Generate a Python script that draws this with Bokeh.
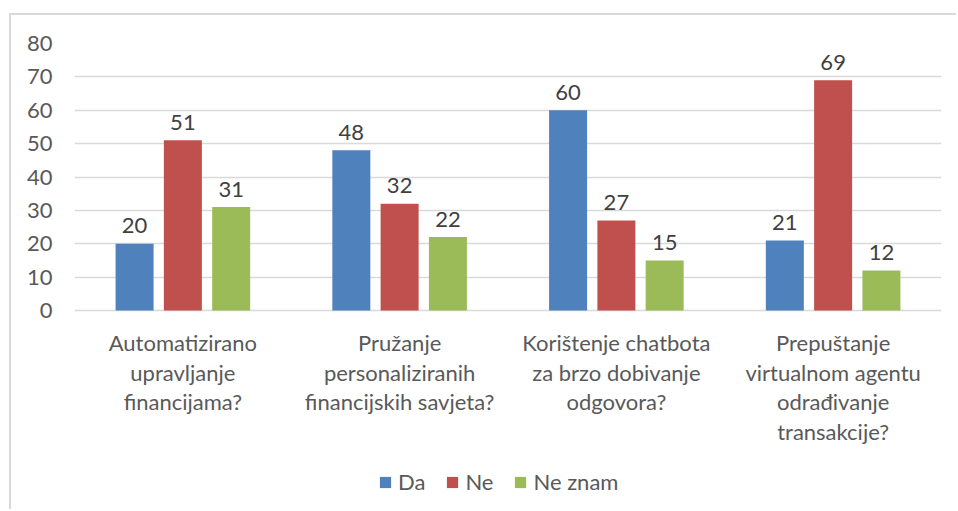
from bokeh.plotting import figure
from bokeh.models import ColumnDataSource, FactorRange, Range1d, Legend, LegendItem, FixedTicker
from bokeh.transform import dodge
from bokeh.core.properties import value
from bokeh.embed import file_html
from bokeh.resources import INLINE

# ---- data ----
categories = [
    "Automatizirano\nupravljanje\nfinancijama?",
    "Pružanje\npersonaliziranih\nfinancijskih savjeta?",
    "Korištenje chatbota\nza brzo dobivanje\nodgovora?",
    "Prepuštanje\nvirtualnom agentu\nodrađivanje\ntransakcije?",
]
series_names = ["Da", "Ne", "Ne znam"]
da = [20, 48, 60, 21]
ne = [51, 32, 27, 69]
ne_znam = [31, 22, 15, 12]
y_ticks = [0, 10, 20, 30, 40, 50, 60, 70, 80]

colors = ["#4F81BD", "#C0504D", "#9BBB59"]
FONT = "Lato"
FS = "22px"

src = ColumnDataSource(dict(
    x=categories, base=[0] * len(categories),
    da=da, ne=ne, nz=ne_znam,
    da_t=[str(v) for v in da], ne_t=[str(v) for v in ne], nz_t=[str(v) for v in ne_znam],
))

# the frame reaches down to the bottom of the chart, so that category labels and
# legend (drawn inside it) are not clipped; the value axis only ticks 0..80
p = figure(
    x_range=FactorRange(*categories, range_padding=0), y_range=Range1d(-60.2, 80),
    width=947, height=496, output_backend="svg", toolbar_location=None,
    x_axis_location=None,
    min_border_left=63, min_border_right=17, min_border_top=28, min_border_bottom=0,
)
p.styles = {
    "margin-left": "9px", "margin-top": "13px",
    "border-left": "2px solid #d9d9d9", "border-top": "2px solid #d9d9d9",
}
p.outline_line_color = None
p.background_fill_color = "white"
p.border_fill_color = "white"

offs = [-0.2228, 0.0, 0.2228]
cols = ["da", "ne", "nz"]
renderers = []
for off, c, col in zip(offs, colors, cols):
    r = p.vbar(x=dodge("x", off, range=p.x_range), top=col, width=0.1753, source=src,
               fill_color=c, line_color=None)
    renderers.append(r)
    p.text(x=dodge("x", off, range=p.x_range), y=col, text=col + "_t", source=src,
           text_align="center", text_baseline="alphabetic", y_offset=-18,
           text_font=value(FONT), text_font_size=FS, text_color="#404040")

# category labels under the zero line
p.text(x="x", y="base", text="x", source=src, text_align="center", text_baseline="top",
       y_offset=18, text_line_height=1.11,
       text_font=value(FONT), text_font_size=FS, text_color="#595959")

# value axis
p.yaxis.ticker = FixedTicker(ticks=y_ticks)
p.yaxis.axis_line_color = None
p.yaxis.major_tick_line_color = None
p.yaxis.minor_tick_line_color = None
p.yaxis.major_tick_out = 0
p.yaxis.major_label_standoff = 22
p.yaxis.major_label_text_font = FONT
p.yaxis.major_label_text_font_size = FS
p.yaxis.major_label_text_color = "#595959"

p.xgrid.grid_line_color = None
p.ygrid.grid_line_color = "#d9d9d9"
p.ygrid.grid_line_width = 1.5

legend = Legend(
    items=[LegendItem(label=n, renderers=[r]) for n, r in zip(series_names, renderers)],
    orientation="horizontal", location=(304, 16),
    glyph_width=14, glyph_height=14, label_standoff=6, spacing=20, padding=0, margin=0,
    label_text_font=FONT, label_text_font_size=FS, label_text_color="#595959",
    border_line_color=None, background_fill_alpha=0,
)
p.add_layout(legend, "center")

open("out.html", "w").write(file_html(p, INLINE))
